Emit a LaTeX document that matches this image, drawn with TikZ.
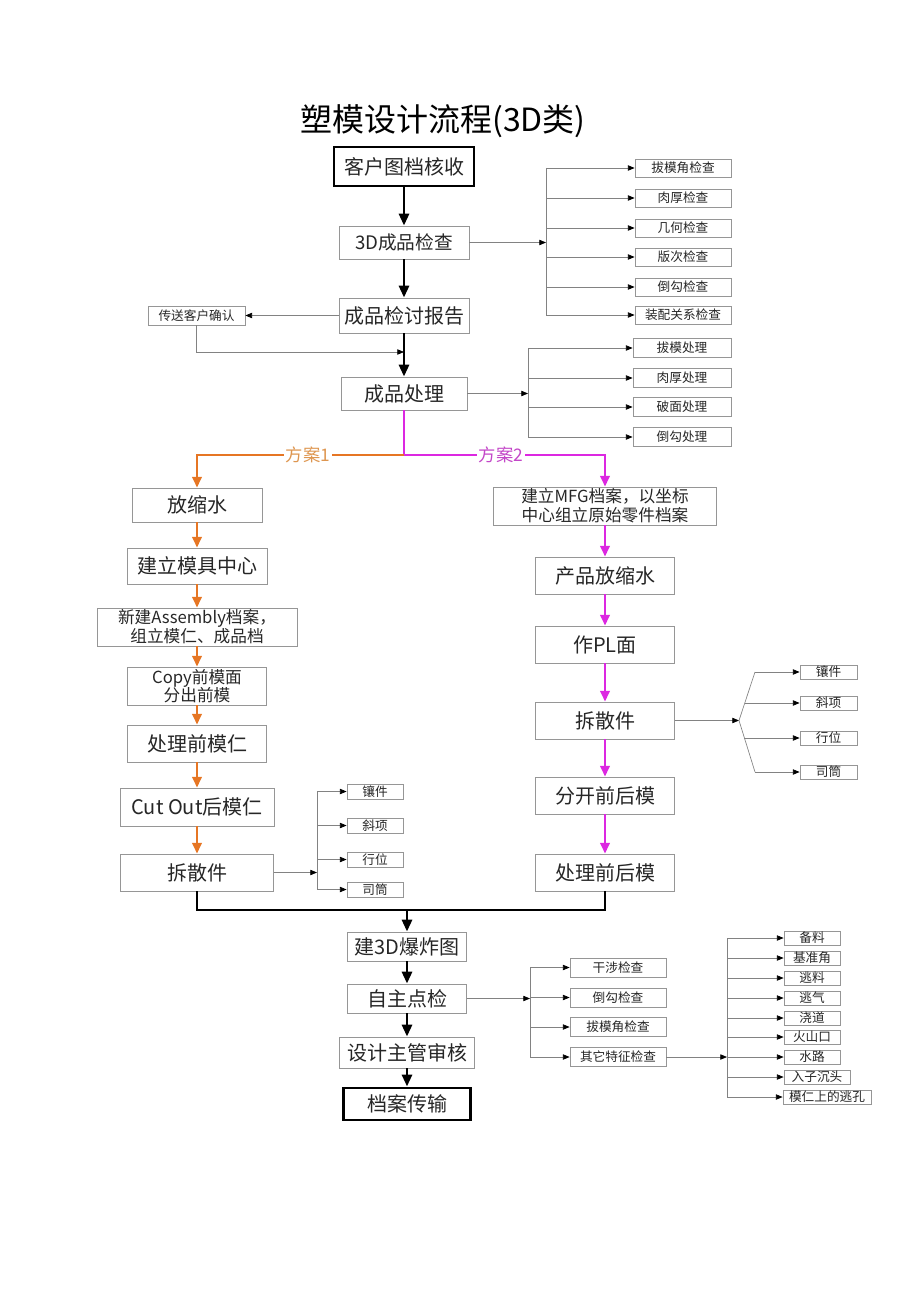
\documentclass[tikz,border=0pt]{standalone}
\usepackage{fontspec}
\setmainfont{Noto Sans CJK SC}
\usetikzlibrary{arrows.meta}
\definecolor{boxgray}{RGB}{150,150,150}
\definecolor{linegray}{RGB}{130,130,130}
\definecolor{orn}{RGB}{230,118,36}
\definecolor{mag}{RGB}{220,40,225}
\definecolor{ornlbl}{RGB}{222,150,80}
\definecolor{maglbl}{RGB}{195,70,200}
\begin{document}
\begin{tikzpicture}[x=0.75pt,y=-0.75pt,
  bx/.style 2 args={draw=boxgray,line width=0.6pt,inner sep=0pt,minimum width=#1*0.75pt,minimum height=#2*0.75pt,align=center,text=black!85},
  thickbx/.style={draw=black,line width=2.2pt},
  fbig/.style={font=\fontsize{15}{17}\selectfont},
  fmid/.style={font=\fontsize{14}{16}\selectfont},
  ftwo/.style={font=\fontsize{12.5}{14}\selectfont},
  fsm/.style={font=\fontsize{9.5}{11}\selectfont},
  mainarr/.style={line width=2.2pt,-{Triangle[length=9pt,width=7.5pt]}},
  mainline/.style={line width=2.2pt},
  ornarr/.style={draw=orn,line width=1.8pt,-{Triangle[length=8pt,width=7pt,color=orn]}},
  magarr/.style={draw=mag,line width=1.8pt,-{Triangle[length=8pt,width=7pt,color=mag]}},
  thinln/.style={draw=linegray,line width=0.5pt},
  thinarr/.style={thinln,-{Triangle[length=5pt,width=4pt,color=black]}},
  lbl/.style={fill=white,inner sep=1.5pt,font=\fontsize{13}{15}\selectfont},
]
\useasboundingbox (0,0) rectangle (920,1302);

% title
\node[font=\fontsize{24}{28}\selectfont] (title) at (443,121) {塑模设计流程(3D类)};

% top column
\node[bx={140}{39},thickbx,fbig] (A) at (404,166.5) {客户图档核收};
\node[bx={130}{33},fmid] (B) at (404,242.5) {3D成品检查};
\node[bx={130}{35},fbig] (C) at (404,315.5) {成品检讨报告};
\node[bx={97}{19},fsm] (D) at (196.5,315.5) {传送客户确认};
\node[bx={126}{33},fbig] (E) at (404,393.5) {成品处理};

% check list 1
\foreach \n/\y/\t in {c1/168/拔模角检查,c2/198/肉厚检查,c3/228/几何检查,c4/257/版次检查,c5/287/倒勾检查,c6/315/装配关系检查}
  {\node[bx={96}{18},fsm] (\n) at (683,\y) {\t};}
% process list
\foreach \n/\y/\t in {p1/348/拔模处理,p2/378/肉厚处理,p3/407/破面处理,p4/437/倒勾处理}
  {\node[bx={98}{19},fsm] (\n) at (682,\y) {\t};}

% left column
\node[bx={130}{34},fbig] (L1) at (197,505) {放缩水};
\node[bx={140}{36},fbig] (L2) at (197,566) {建立模具中心};
\node[bx={200}{38},ftwo] (L3) at (197,627) {新建Assembly档案，\\组立模仁、成品档};
\node[bx={139}{38},ftwo] (L4) at (197,686) {Copy前模面\\分出前模};
\node[bx={139}{37},fbig] (L5) at (197,743.5) {处理前模仁};
\node[bx={154}{38},fbig] (L6) at (197,807) {Cut Out后模仁};
\node[bx={153}{37},fbig] (L7) at (197,872.5) {拆散件};
\foreach \n/\y/\t in {ls1/791.5/镶件,ls2/825.5/斜项,ls3/859.5/行位,ls4/889.5/司筒}
  {\node[bx={56}{15},fsm] (\n) at (375,\y) {\t};}

% right column
\node[bx={223}{38},ftwo] (R1) at (605,506) {建立MFG档案，以坐标\\中心组立原始零件档案};
\node[bx={139}{37},fbig] (R2) at (605,575.5) {产品放缩水};
\node[bx={139}{37},fbig] (R3) at (605,644.5) {作PL面};
\node[bx={139}{37},fbig] (R4) at (605,720.5) {拆散件};
\node[bx={139}{37},fbig] (R5) at (605,795.5) {分开前后模};
\node[bx={139}{37},fbig] (R6) at (605,872.5) {处理前后模};
\foreach \n/\y/\t in {rs1/672/镶件,rs2/703/斜项,rs3/738/行位,rs4/772/司筒}
  {\node[bx={57}{14},fsm] (\n) at (828.5,\y) {\t};}

% bottom column
\node[bx={119}{29},fbig] (M1) at (407,946.5) {建3D爆炸图};
\node[bx={119}{29},fbig] (M2) at (407,998.5) {自主点检};
\node[bx={135}{31},fbig] (M3) at (407,1052.5) {设计主管审核};
\node[bx={127}{32},thickbx,fbig] (M4) at (407,1104) {档案传输};
\foreach \n/\y/\t in {q1/967.5/干涉检查,q2/997.5/倒勾检查,q3/1027/拔模角检查,q4/1057/其它特征检查}
  {\node[bx={96}{19},fsm] (\n) at (618,\y) {\t};}
\foreach \n/\y/\t in {k1/938/备料,k2/958/基准角,k3/978/逃料,k4/998/逃气,k5/1018/浇道,k6/1037/火山口,k7/1057/水路}
  {\node[bx={56}{14},fsm] (\n) at (812,\y) {\t};}
\node[bx={66}{14},fsm] (k8) at (817,1077) {入子沉头};
\node[bx={88}{14},fsm] (k9) at (827,1097) {模仁上的逃孔};

% coordinates
\coordinate (bj) at (546,242.5);
\coordinate (dj) at (404,352);
\coordinate (ej) at (528,393.5);
\coordinate (br) at (404,455);
\coordinate (lj) at (317,872.5);
\coordinate (rj) at (739,720.5);
\coordinate (rt) at (755,672);
\coordinate (rm1) at (745,703);
\coordinate (rm2) at (744,738);
\coordinate (rb) at (755,772);
\coordinate (mj) at (407,910);
\coordinate (qj) at (530,998.5);
\coordinate (kj) at (727,1057);

% main black arrows
\draw[mainarr] (A.south) -- (B.north);
\draw[mainarr] (B.south) -- (C.north);
\draw[mainarr] (C.south) -- (E.north);

% check list 1 connectors
\draw[thinarr] (B.east) -- (bj);
\draw[thinln] (bj |- c1.west) -- (bj |- c6.west);
\foreach \n in {c1,c2,c3,c4,c5,c6} {\draw[thinarr] (bj |- \n.west) -- (\n.west);}

% customer confirm
\draw[thinarr] (C.west) -- (D.east);
\draw[thinarr] (D.south) |- (dj);

% process list connectors
\draw[thinarr] (E.east) -- (ej);
\draw[thinln] (ej |- p1.west) -- (ej |- p4.west);
\foreach \n in {p1,p2,p3,p4} {\draw[thinarr] (ej |- \n.west) -- (\n.west);}

% branches
\draw[draw=mag,line width=1.8pt] (E.south) -- (br);
\draw[ornarr] (br) -| node[lbl,text=ornlbl,pos=0.232] {方案1} (L1.north);
\draw[magarr] (br) -| node[lbl,text=maglbl,pos=0.241] {方案2} (R1.north);

% left column arrows
\draw[ornarr] (L1.south) -- (L2.north);
\draw[ornarr] (L2.south) -- (L3.north);
\draw[ornarr] (L3.south) -- (L4.north);
\draw[ornarr] (L4.south) -- (L5.north);
\draw[ornarr] (L5.south) -- (L6.north);
\draw[ornarr] (L6.south) -- (L7.north);
\draw[thinarr] (L7.east) -- (lj);
\draw[thinln] (lj |- ls1.west) -- (lj |- ls4.west);
\foreach \n in {ls1,ls2,ls3,ls4} {\draw[thinarr] (lj |- \n.west) -- (\n.west);}

% right column arrows
\draw[magarr] (R1.south) -- (R2.north);
\draw[magarr] (R2.south) -- (R3.north);
\draw[magarr] (R3.south) -- (R4.north);
\draw[magarr] (R4.south) -- (R5.north);
\draw[magarr] (R5.south) -- (R6.north);
\draw[thinarr] (R4.east) -- (rj);
\draw[thinln] (rt) -- (rj) -- (rb);
\draw[thinarr] (rt) -- (rs1.west);
\draw[thinarr] (rm1) -- (rs2.west);
\draw[thinarr] (rm2) -- (rs3.west);
\draw[thinarr] (rb) -- (rs4.west);

% merge
\draw[mainline] (L7.south) |- (mj) -| (R6.south);
\draw[mainarr] (mj) -- (M1.north);
\draw[mainarr] (M1.south) -- (M2.north);
\draw[mainarr] (M2.south) -- (M3.north);
\draw[mainarr] (M3.south) -- (M4.north);

% bottom checks
\draw[thinarr] (M2.east) -- (qj);
\draw[thinln] (qj |- q1.west) -- (qj |- q4.west);
\foreach \n in {q1,q2,q3,q4} {\draw[thinarr] (qj |- \n.west) -- (\n.west);}
\draw[thinarr] (q4.east) -- (kj);
\draw[thinln] (kj |- k1.west) -- (kj |- k9.west);
\foreach \n in {k1,k2,k3,k4,k5,k6,k7,k8,k9} {\draw[thinarr] (kj |- \n.west) -- (\n.west);}
\end{tikzpicture}
\end{document}
